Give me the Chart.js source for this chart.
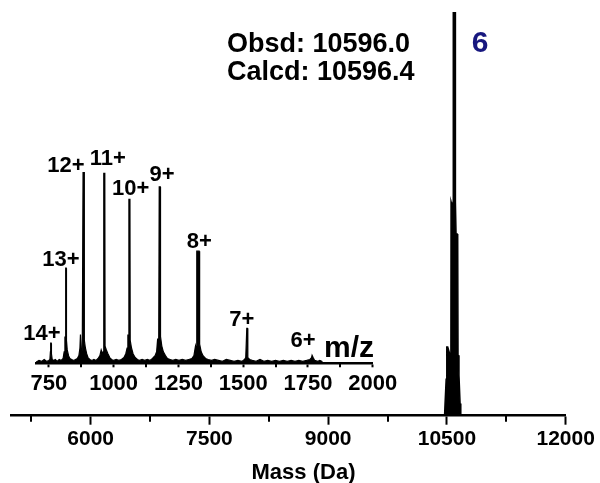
<!DOCTYPE html>
<html>
<head>
<meta charset="utf-8">
<script src="https://cdn.jsdelivr.net/npm/chart.js@4.4.0/dist/chart.umd.min.js"></script>
<style>
body { margin: 0; background: #fff; }
#wrap { position: relative; width: 600px; height: 483px; }
#wrap canvas { position: absolute; left: 0; top: 0; }
</style>
</head>
<body>
<div id="wrap">
<canvas id="main" width="600" height="483"></canvas>
<canvas id="inset" width="600" height="483"></canvas>
</div>
<script>
// deconvoluted spectrum: mass (Da) and relative intensity
const massDa = [5000, 10470, 10476, 10490, 10498, 10510, 10525, 10540, 10550, 10552, 10565, 10578,
  10580, 10605, 10607, 10615, 10630, 10636, 10640, 10652, 10666, 10675, 12000];
const massIntensity = [0, 0, 3, 9, 17, 17, 16, 15, 17, 53, 52, 53,
  100, 100, 53, 45, 45, 44.8, 15, 10, 3, 0, 0];
const massTicks = [6000, 7500, 9000, 10500, 12000];
const massMinorTicks = [5250, 6750, 8250, 9750, 11250];

// raw ESI spectrum (inset): m/z and relative intensity
const mzValues = [700, 712, 722, 732, 742, 750, 754, 756, 757, 759, 760, 763, 768, 775, 782, 790, 798,
  805, 809, 812, 814, 815, 817, 818, 821, 826, 831, 838, 846, 853, 860, 866, 870, 872, 875, 879,
  882, 886, 887, 891, 896, 901, 908, 916, 924, 932, 940, 947, 952, 957, 960, 962, 966, 967, 972,
  978, 985, 992, 1000, 1010, 1020, 1030, 1040, 1047, 1052, 1055, 1058, 1059, 1063, 1064, 1069,
  1075, 1083, 1092, 1100, 1110, 1120, 1130, 1140, 1150, 1160, 1166, 1170, 1174, 1176, 1180, 1181,
  1186, 1192, 1200, 1208, 1218, 1228, 1240, 1252, 1265, 1278, 1290, 1302, 1310, 1316, 1320, 1321,
  1330, 1332, 1338, 1345, 1355, 1365, 1378, 1390, 1405, 1420, 1435, 1450, 1465, 1480, 1495, 1505,
  1510, 1514, 1516, 1518, 1525, 1535, 1550, 1565, 1580, 1595, 1610, 1625, 1640, 1655, 1670, 1685,
  1700, 1715, 1730, 1745, 1758, 1764, 1766, 1768, 1770, 1776, 1788, 1796, 1804, 1805];
const mzIntensity = [0.5, 1.5, 1, 2, 1, 1.5, 2, 6, 10.5, 10.5, 5, 2, 1.5, 2, 1, 2, 1.5,
  2.5, 6, 14, 8, 49.7, 49.7, 12, 7, 4, 2.5, 2, 1.5, 2, 2.5, 4, 8, 15, 6, 7,
  100, 100, 12, 8, 5, 3, 2, 1.5, 2, 1.5, 2.5, 4, 7, 5, 6, 99.3, 99.3, 9, 7,
  5, 3, 2, 1.5, 2, 1.5, 2, 3, 5, 8, 15, 6, 85.7, 85.7, 12, 8,
  5, 3, 2, 1.5, 2, 1.5, 2, 1.5, 2.5, 4, 6, 13, 7, 92.3, 92.3, 14,
  9, 6, 4, 2.5, 2, 1.5, 2, 1.5, 2, 1.5, 2, 2.5, 4, 9, 6, 58.6,
  58.6, 10, 6, 4, 2.5, 2, 1.5, 2, 1.5, 1, 2, 1.5, 1, 1.5, 1, 2,
  3, 18.3, 18.3, 3, 2, 1.5, 1, 2, 1, 1.5, 1, 1.5, 1, 1.5, 1, 1.5,
  1, 1.5, 1, 1.5, 2, 3, 4.2, 4.2, 3, 1.5, 1, 1.5, 1, 0];
const mzTicks = [750, 1000, 1250, 1500, 1750, 2000];
const mzMinorTicks = [875, 1125, 1375, 1625, 1875];

// charge states of the inset peaks
const chargeLabels = ['14+', '13+', '12+', '11+', '10+', '9+', '8+', '7+', '6+'];
const chargeMz = [758, 816, 884, 964, 1061, 1178, 1326, 1515, 1767];
const chargeHeight = [10.5, 49.7, 100, 99.3, 85.7, 92.3, 58.6, 18.3, 4.2];

// pixel offsets of each charge label from its peak tip
const labelDx = [-9, -5, -17.7, 3.5, 1.3, 2.4, 1.3, -5.3, -9.3];
const labelDy = [-11, -10.5, -8, -16, -12.6, -14, -11, -10, -16];

Chart.defaults.font.family = '"Liberation Sans", Arial, sans-serif';
Chart.defaults.color = '#000';

const minorTicks = {
  id: 'minorTicks',
  afterDraw(chart, args, opts) {
    const sx = chart.scales.x;
    const ctx = chart.ctx;
    ctx.save();
    ctx.strokeStyle = '#000';
    ctx.lineWidth = opts.width;
    opts.values.forEach(v => {
      const px = Math.round(sx.getPixelForValue(v));
      ctx.beginPath();
      ctx.moveTo(px, sx.top);
      ctx.lineTo(px, sx.top + opts.length);
      ctx.stroke();
    });
    ctx.restore();
  }
};

const textItems = {
  id: 'textItems',
  afterDraw(chart, args, opts) {
    const ctx = chart.ctx;
    ctx.save();
    opts.items.forEach(t => {
      ctx.font = t.font;
      ctx.fillStyle = t.color || '#000';
      ctx.textAlign = t.align || 'left';
      ctx.textBaseline = 'alphabetic';
      ctx.fillText(t.text, t.x, t.y);
    });
    ctx.restore();
  }
};

const chargeText = {
  id: 'chargeText',
  afterDraw(chart) {
    const sx = chart.scales.x, sy = chart.scales.y, ctx = chart.ctx;
    ctx.save();
    ctx.font = 'bold 22px "Liberation Sans", Arial, sans-serif';
    ctx.fillStyle = '#000';
    ctx.textAlign = 'center';
    ctx.textBaseline = 'alphabetic';
    chargeLabels.forEach((lab, i) => {
      const x = sx.getPixelForValue(chargeMz[i]) + labelDx[i];
      const y = sy.getPixelForValue(chargeHeight[i]) + labelDy[i];
      ctx.fillText(lab, x, y + 8);
    });
    ctx.restore();
  }
};

function axisOptions(min, max, ticks, fontSize, tickLen, pad, height) {
  return {
    type: 'linear',
    min: min,
    max: max,
    afterBuildTicks: s => { s.ticks = ticks.map(v => ({ value: v })); },
    afterFit: s => { s.height = height; },
    ticks: {
      autoSkip: false,
      maxRotation: 0,
      padding: pad,
      font: { size: fontSize, weight: 'bold' },
      callback: v => String(v)
    },
    grid: {
      drawOnChartArea: false,
      drawTicks: true,
      tickLength: tickLen,
      tickWidth: 2,
      tickColor: '#000'
    },
    border: { display: true, color: '#000', width: 2.5 }
  };
}

new Chart(document.getElementById('main'), {
  type: 'line',
  data: {
    datasets: [{
      data: massDa.map((m, i) => ({ x: m, y: massIntensity[i] })),
      borderColor: '#000',
      backgroundColor: '#000',
      borderWidth: 1.5,
      fill: 'origin',
      pointRadius: 0,
      tension: 0
    }]
  },
  options: {
    responsive: false,
    animation: false,
    layout: { padding: { left: 11.5, right: 34.3, top: 12, bottom: 0 } },
    scales: {
      x: axisOptions(5000, 12000, massTicks, 21, 9, 2, 67.3),
      y: { display: false, min: 0, max: 100 }
    },
    plugins: {
      legend: { display: false },
      tooltip: { enabled: false },
      minorTicks: { values: massMinorTicks, length: 6, width: 2 },
      textItems: {
        items: [
          { text: 'Obsd: 10596.0', x: 227, y: 51.7, font: 'bold 27px "Liberation Sans", Arial, sans-serif' },
          { text: 'Calcd: 10596.4', x: 227, y: 80, font: 'bold 27px "Liberation Sans", Arial, sans-serif' },
          { text: '6', x: 480, y: 51.7, align: 'center', color: '#17177f', font: 'bold 30px "Liberation Sans", Arial, sans-serif' },
          { text: 'Mass (Da)', x: 303.5, y: 479, align: 'center', font: 'bold 22px "Liberation Sans", Arial, sans-serif' }
        ]
      }
    }
  },
  plugins: [minorTicks, textItems]
});

new Chart(document.getElementById('inset'), {
  type: 'line',
  data: {
    datasets: [{
      data: mzValues.map((m, i) => ({ x: m, y: mzIntensity[i] })),
      borderColor: '#000',
      backgroundColor: '#000',
      borderWidth: 1.2,
      fill: 'origin',
      pointRadius: 0,
      tension: 0
    }]
  },
  options: {
    responsive: false,
    animation: false,
    layout: { padding: { left: 35.9, right: 227.3, top: 172, bottom: 0 } },
    scales: {
      x: axisOptions(700, 2000, mzTicks, 22, 4, 3, 119.7),
      y: { display: false, min: 0, max: 100 }
    },
    plugins: {
      legend: { display: false },
      tooltip: { enabled: false },
      minorTicks: { values: mzMinorTicks, length: 4, width: 2 },
      textItems: {
        items: [
          { text: 'm/z', x: 374, y: 356.7, align: 'right', font: 'bold 30px "Liberation Sans", Arial, sans-serif' }
        ]
      }
    }
  },
  plugins: [minorTicks, textItems, chargeText]
});
</script>
</body>
</html>
